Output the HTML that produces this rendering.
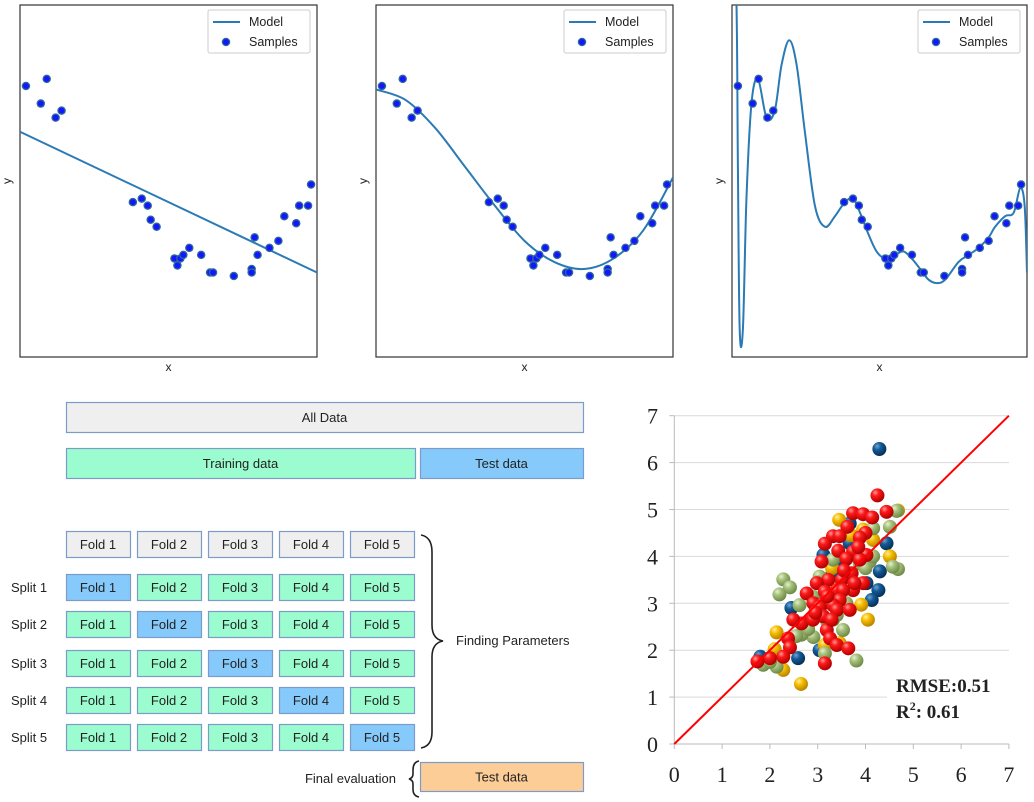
<!DOCTYPE html>
<html><head><meta charset="utf-8">
<style>
html,body{margin:0;padding:0;background:#fff;}
svg{display:block;font-family:"Liberation Sans",sans-serif;}
</style></head>
<body>
<svg id="root" width="1034" height="802" viewBox="0 0 1034 802" xmlns="http://www.w3.org/2000/svg">
<defs>
<radialGradient id="gRed" cx="35%" cy="30%" r="70%"><stop offset="0" stop-color="#ff9a9a"/><stop offset="0.35" stop-color="#ff1a1a"/><stop offset="1" stop-color="#b00000"/></radialGradient>
<radialGradient id="gGreen" cx="35%" cy="30%" r="70%"><stop offset="0" stop-color="#e4f0cf"/><stop offset="0.4" stop-color="#a5c07a"/><stop offset="1" stop-color="#6e8a48"/></radialGradient>
<radialGradient id="gBlue" cx="35%" cy="30%" r="70%"><stop offset="0" stop-color="#6fa3d0"/><stop offset="0.4" stop-color="#145a96"/><stop offset="1" stop-color="#06305a"/></radialGradient>
<radialGradient id="gYellow" cx="35%" cy="30%" r="70%"><stop offset="0" stop-color="#fff0a0"/><stop offset="0.4" stop-color="#f7bd00"/><stop offset="1" stop-color="#b88400"/></radialGradient>
<clipPath id="clip3"><rect x="732" y="5" width="295" height="352"/></clipPath>
</defs>
<g id="topPanels"></g>
<g id="cv"></g>
<g id="sc"></g>
</svg>
<script>
// ---------- top regression panels data (normalized 0..1) ----------
const sampleX = [0.02,0.09,0.07,0.12,0.14,0.38,0.41,0.43,0.44,0.46,0.52,0.53,0.54,0.55,0.57,0.61,0.64,0.65,0.72,0.78,0.78,0.79,0.80,0.84,0.87,0.89,0.93,0.94,0.97,0.98];
const sampleY = [0.77,0.79,0.72,0.68,0.70,0.44,0.45,0.43,0.39,0.37,0.28,0.26,0.28,0.29,0.31,0.29,0.24,0.24,0.23,0.25,0.24,0.34,0.29,0.31,0.33,0.40,0.38,0.43,0.43,0.49];
const model1X = [0,1];
const model1Y = [0.64,0.24];
const model2X = [0,0.1,0.2,0.3,0.4,0.5,0.6,0.7,0.8,0.9,1.0];
const model2Y = [0.76,0.73,0.65,0.54,0.43,0.33,0.27,0.25,0.28,0.36,0.51];
const model3X = [0.0,0.015,0.02,0.026,0.037,0.049,0.066,0.088,0.117,0.145,0.168,0.194,0.219,0.247,0.281,0.315,0.349,0.383,0.411,0.434,0.462,0.49,0.519,0.553,0.581,0.609,0.638,0.666,0.694,0.723,0.768,0.802,0.836,0.87,0.892,0.926,0.955,0.977,0.992,1.0];
const model3Y = [1.3,1.01,0.54,0.08,0.08,0.45,0.72,0.79,0.68,0.70,0.83,0.90,0.83,0.64,0.43,0.37,0.40,0.44,0.45,0.41,0.35,0.30,0.28,0.29,0.30,0.28,0.25,0.22,0.21,0.22,0.27,0.29,0.31,0.34,0.37,0.40,0.41,0.48,0.43,0.24];

// ---------- cross validation diagram ----------
const foldNames = ["Fold 1","Fold 2","Fold 3","Fold 4","Fold 5"];
const splitNames = ["Split 1","Split 2","Split 3","Split 4","Split 5"];

// ---------- scatter data ----------
const blueX = [4.29,4.44,4.27,4.13,4.30,2.59,2.45,3.12,3.67,4.02,1.80,3.67,3.04,3.55,2.75,3.30];
const blueY = [6.29,4.28,3.28,3.07,3.68,1.83,2.90,4.03,4.70,3.43,1.86,4.28,2.00,3.90,2.50,3.60];
const yellowX = [2.65,4.05,3.91,4.51,2.14,3.45,4.68,2.10,2.28,3.95,4.16,3.15,3.46,3.70,3.30];
const yellowY = [1.28,2.65,2.97,4.00,2.38,4.78,4.98,2.02,1.58,4.57,4.35,2.11,2.15,4.45,3.75];
const greenX = [4.65,4.51,4.68,4.57,2.28,2.42,2.20,3.53,2.91,2.66,3.15,3.81,2.14,1.86,3.32,4.09,4.16,3.04,2.62,3.60,3.32,2.90,3.88,4.16,2.80,3.20,3.40,2.55,3.00,4.00,2.00];
const greenY = [4.97,4.63,3.73,3.78,3.51,3.34,3.19,2.43,2.28,2.33,1.93,1.78,1.65,1.69,3.93,3.89,4.60,3.57,2.96,3.00,2.65,3.14,3.85,4.00,2.45,2.60,2.75,2.30,3.45,3.75,1.75];
const redX = [4.25,4.44,3.74,3.95,4.14,3.62,3.32,3.15,3.46,4.00,3.88,3.43,3.08,3.74,4.02,3.88,3.71,3.95,3.74,3.50,3.22,2.98,2.77,3.15,3.40,3.53,2.91,3.12,3.46,3.32,3.04,2.87,2.66,2.49,3.12,3.40,3.67,3.19,3.26,3.40,3.64,2.38,2.42,2.28,2.00,1.74,3.15,2.90,3.77,3.29,3.85,3.60,3.20,2.95,3.55];
const redY = [5.30,4.95,4.92,4.90,4.83,4.63,4.43,4.27,4.43,4.50,4.40,4.12,3.89,4.10,4.03,3.93,3.64,3.43,3.28,3.50,3.50,3.43,3.21,3.25,3.28,3.28,3.00,3.00,3.07,2.96,2.92,2.68,2.57,2.65,2.72,2.86,2.86,2.43,2.25,2.11,2.04,2.25,2.06,1.86,1.83,1.76,1.72,2.65,3.43,2.65,4.20,3.95,3.15,2.80,3.70];
const axisTicks = [0,1,2,3,4,5,6,7];

const NS="http://www.w3.org/2000/svg";
function mk(parent,tag,attrs,text){const e=document.createElementNS(NS,tag);for(const k in attrs)e.setAttribute(k,attrs[k]);if(text!==undefined)e.textContent=text;parent.appendChild(e);return e;}

function smoothPath(pts){
  let d="M"+pts[0][0]+","+pts[0][1];
  for(let i=0;i<pts.length-1;i++){
    const p0=pts[Math.max(0,i-1)],p1=pts[i],p2=pts[i+1],p3=pts[Math.min(pts.length-1,i+2)];
    const c1x=p1[0]+(p2[0]-p0[0])/6,c1y=p1[1]+(p2[1]-p0[1])/6;
    const c2x=p2[0]-(p3[0]-p1[0])/6,c2y=p2[1]-(p3[1]-p1[1])/6;
    d+=" C"+c1x+","+c1y+" "+c2x+","+c2y+" "+p2[0]+","+p2[1];
  }
  return d;
}

// ---- top panels ----
const topG=document.getElementById('topPanels');
const panels=[{x0:20,w:297,mx:model1X,my:model1Y,smooth:false},{x0:376,w:297,mx:model2X,my:model2Y,smooth:true},{x0:732,w:295,mx:model3X,my:model3Y,smooth:true,clip:true}];
const PY0=5,PH=352;
panels.forEach((p,i)=>{
  const g=mk(topG,'g',{});
  
  
  const sx=v=>p.x0+v*p.w, sy=v=>PY0+PH-v*PH;
  const frame=mk(g,'rect',{x:p.x0,y:PY0,width:p.w,height:PH,fill:'#fff',stroke:'#333','stroke-width':1.2});
  
  
  const pts=p.mx.map((x,k)=>[sx(x),sy(p.my[k])]);
  const path=mk(g,'path',{d:p.smooth?smoothPath(pts):"M"+pts.map(q=>q.join(',')).join(' L'),fill:'none',stroke:'#2a7ab5','stroke-width':2});
  if(p.clip) path.setAttribute('clip-path','url(#clip3)');
  
  
  sampleX.forEach((x,k)=>{
    const c=mk(g,'circle',{cx:sx(x),cy:sy(sampleY[k]),r:3.6,fill:'#1515ff',stroke:'#2a6a9a','stroke-width':1.3});
    
    
  });
  const lx=p.x0+p.w-109, ly=10;
  const lg=mk(g,'g',{});
  
  
  mk(lg,'rect',{x:lx,y:ly,width:102,height:43,rx:2,fill:'#fff',stroke:'#ccc'});
  mk(lg,'line',{x1:lx+5,y1:ly+12,x2:lx+32,y2:ly+12,stroke:'#2a7ab5','stroke-width':2});
  mk(lg,'circle',{cx:lx+18,cy:ly+32,r:3.6,fill:'#1515ff',stroke:'#2a6a9a','stroke-width':1.3});
  const t1=mk(lg,'text',{x:lx+41,y:ly+16,'font-size':12.5,fill:'#222'},'Model');
  
  
  const t2=mk(lg,'text',{x:lx+41,y:ly+36,'font-size':12.5,fill:'#222'},'Samples');
  
  
  const xl=mk(g,'text',{x:p.x0+p.w/2,y:371,'font-size':12,'text-anchor':'middle',fill:'#222'},'x');
  
  
  const yl=mk(g,'text',{x:p.x0-9,y:181,'font-size':12,'text-anchor':'middle',fill:'#222',transform:'rotate(-90 '+(p.x0-9)+' 181)'},'y');
  
  
});

// ---- CV diagram ----
const cv=document.getElementById('cv');
function box(x,y,w,h,fill,label,name){
  const g=mk(cv,'g',{});
  
  
  mk(g,'rect',{x:x+0.5,y:y+0.5,width:w,height:h,fill:fill,stroke:'#7b9bc9','stroke-width':1.2});
  mk(g,'text',{x:x+w/2,y:y+h/2+5,'font-size':13,'text-anchor':'middle',fill:'#222'},label);
  return g;
}
const GRAY='#efefef',GREEN='#9bfccf',BLUE='#86c9fb',ORANGE='#fdcd98';
box(66,402,517,30,GRAY,'All Data','all-data-bar');
box(66,448,349,30,GREEN,'Training data','training-data-bar');
box(420,448,163,30,BLUE,'Test data','test-data-bar');
const colX=[66,137,208,279,350];
const rowY=[574,611,650,687,724];
foldNames.forEach((f,c)=>box(colX[c],531,64,26,GRAY,f,'fold-header-'+(c+1)));
splitNames.forEach((s,r)=>{
  const t=mk(cv,'text',{x:11,y:rowY[r]+18,'font-size':13,fill:'#222'},s);
  
  
  foldNames.forEach((f,c)=>box(colX[c],rowY[r],64,26,c===r?BLUE:GREEN,f,'split-'+(r+1)+'-fold-'+(c+1)));
});
const br=mk(cv,'path',{d:'M421,535 Q432,537 432,552 L432,625 Q432,639 443,641 Q432,643 432,657 L432,732 Q432,746 421,748',fill:'none',stroke:'#222','stroke-width':1.6});


const fp=mk(cv,'text',{x:456,y:645,'font-size':13,fill:'#222'},'Finding Parameters');


const br2=mk(cv,'path',{d:'M419,761 Q413,762 413,770 L413,774 Q413,778 409,779 Q413,780 413,784 L413,789 Q413,796 419,797',fill:'none',stroke:'#222','stroke-width':1.6});


const fe=mk(cv,'text',{x:396,y:783,'font-size':13,'text-anchor':'end',fill:'#222'},'Final evaluation');


box(420,762,163,29,ORANGE,'Test data','final-test-data-bar');

// ---- scatter ----
const sc=document.getElementById('sc');
const X0=674.3,XS=47.8,Y0=744,YS=46.9;
const px=v=>X0+v*XS, py=v=>Y0-v*YS;
axisTicks.forEach(t=>{
  if(t>0){
    const gl=mk(sc,'line',{x1:px(0),y1:py(t),x2:t===1?px(4.45):px(7),y2:py(t),stroke:'#d9d9d9','stroke-width':1});
    
    
  }
  const yl=mk(sc,'text',{x:658,y:py(t)+8,'font-size':22,'text-anchor':'end',fill:'#222','font-family':'Liberation Serif, serif'},String(t));
  
  
  const xl=mk(sc,'text',{x:px(t),y:782,'font-size':22,'text-anchor':'middle',fill:'#222','font-family':'Liberation Serif, serif'},String(t));
  
  
  mk(sc,'line',{x1:px(t),y1:Y0,x2:px(t),y2:Y0+5,stroke:'#bbb'});
  mk(sc,'line',{x1:px(0)-5,y1:py(t),x2:px(0),y2:py(t),stroke:'#bbb'});
});
const ya=mk(sc,'line',{x1:px(0),y1:py(0),x2:px(0),y2:py(7),stroke:'#bbb'});


const xa=mk(sc,'line',{x1:px(0),y1:py(0),x2:px(7),y2:py(0),stroke:'#bbb'});


function series(xs,ys,grad,name){
  const g=mk(sc,'g',{});
  
  
  xs.forEach((x,k)=>{
    const c=mk(g,'circle',{cx:px(x),cy:py(ys[k]),r:7,fill:'url(#'+grad+')'});
    
    
  });
}
series(blueX,blueY,'gBlue','series-blue');
series(yellowX,yellowY,'gYellow','series-yellow');
series(greenX,greenY,'gGreen','series-green');
series(redX,redY,'gRed','series-red');
const idl=mk(sc,'line',{x1:px(0),y1:py(0),x2:px(7),y2:py(7),stroke:'#f00','stroke-width':2});


const r1=mk(sc,'text',{x:896,y:692,'font-size':19,'font-weight':'bold',fill:'#222','font-family':'Liberation Serif, serif'},'RMSE:0.51');


const r2=mk(sc,'text',{x:896,y:718,'font-size':19,'font-weight':'bold',fill:'#222','font-family':'Liberation Serif, serif'},'R');


mk(r2,'tspan',{'font-size':12,dy:-8},'2');
mk(r2,'tspan',{dy:8},': 0.61');
</script>
</body></html>
